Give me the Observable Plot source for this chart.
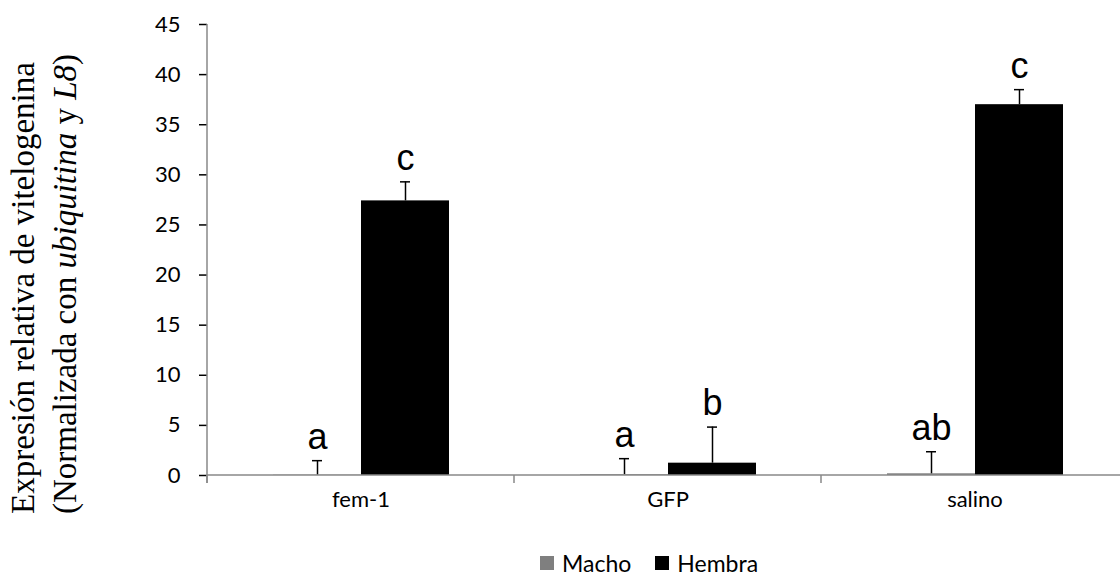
<!DOCTYPE html>
<html>
<head>
<meta charset="utf-8">
<script src="https://cdn.jsdelivr.net/npm/d3@7"></script>
<script src="https://cdn.jsdelivr.net/npm/@observablehq/plot@0.6"></script>
<style>
  html, body { margin: 0; padding: 0; background: white; overflow: hidden; width: 1120px; height: 575px; }
  #chart svg { display: block; }
  [aria-label="y-axis"] .tick line, [aria-label="y-axis tick"] { stroke: #898989; stroke-width: 1.5; }
  #legend { display: flex; align-items: center; padding-left: 540px; padding-top: 3px; height: 20px; line-height: 20px; font-family: Lato, sans-serif; font-size: 23px; color: #000; }
  #legend .sw { width: 14px; height: 14px; display: inline-block; margin-right: 8px; }
  #legend .item { display: flex; align-items: center; margin-right: 24px; height: 20px; }
</style>
</head>
<body>
<div id="chart"></div>
<div id="legend"></div>
<script>
const categories = ["fem-1", "GFP", "salino"];
const sexes = ["Macho", "Hembra"];
const sexColors = ["#7f7f7f", "#000000"];
const machoValues = [0.03, 0.08, 0.17];
const machoErrors = [1.45, 1.6, 2.2];
const hembraValues = [27.4, 1.23, 37.0];
const hembraErrors = [1.9, 3.6, 1.5];
const machoLetters = ["a", "a", "ab"];
const hembraLetters = ["c", "b", "c"];
const yTicks = [0, 5, 10, 15, 20, 25, 30, 35, 40, 45];

const data = [];
categories.forEach((c, i) => {
  data.push({category: c, sex: "Macho", value: machoValues[i], hi: machoValues[i] + machoErrors[i], letter: machoLetters[i]});
  data.push({category: c, sex: "Hembra", value: hembraValues[i], hi: hembraValues[i] + hembraErrors[i], letter: hembraLetters[i]});
});

const plot = Plot.plot({
  width: 1128,
  height: 550,
  marginTop: 24,
  marginBottom: 75,
  marginLeft: 207,
  marginRight: 0,
  style: {fontFamily: "Lato, sans-serif", fontSize: "22px", color: "black", background: "white", maxWidth: "none", overflow: "visible"},
  facet: {data, x: "category"},
  fx: {domain: categories, padding: 0, label: null, axis: "bottom", tickSize: 0, tickPadding: 16},
  x: {domain: sexes, paddingInner: 0, paddingOuter: 0.744, axis: null},
  y: {domain: [0, 45], ticks: yTicks, tickSize: 8, tickPadding: 19, label: null, axis: "left"},
  color: {domain: sexes, range: sexColors},
  marks: [
    Plot.barY(data, {x: "sex", y: "value", fill: "sex"}),
    Plot.ruleX(data, {x: "sex", y1: "value", y2: "hi", stroke: "black", strokeWidth: 1.5}),
    Plot.tickY(data, {x: "sex", y: "hi", stroke: "black", strokeWidth: 1.5, insetLeft: 39, insetRight: 39}),
    Plot.text(data, {x: "sex", y: "hi", text: "letter", dy: -12, lineAnchor: "bottom", fontSize: 36, fontFamily: "Liberation Sans, Arial, sans-serif", fill: "black"})
  ]
});
document.getElementById("chart").appendChild(plot);

// axis lines and category boundary ticks drawn from the plot's own scales
const fxs = plot.scale("fx");
const ys = plot.scale("y");
const y0 = ys.apply(0);
const yTop = ys.apply(45);
const bw = fxs.bandwidth;
const left = fxs.apply(categories[0]);
const right = fxs.apply(categories[categories.length - 1]) + bw;
const svg = d3.select(plot);
const axes = svg.append("g").attr("stroke", "#898989").attr("stroke-width", 1.5);
axes.append("line").attr("x1", left).attr("x2", left).attr("y1", yTop).attr("y2", y0 + 8);
axes.append("line").attr("x1", left).attr("x2", right).attr("y1", y0).attr("y2", y0);
categories.forEach(c => {
  const bx = fxs.apply(c);
  axes.append("line").attr("x1", bx).attr("x2", bx).attr("y1", y0).attr("y2", y0 + 8);
});
axes.append("line").attr("x1", right).attr("x2", right).attr("y1", y0).attr("y2", y0 + 8);

// rotated y-axis title (two lines, serif)
const title = svg.append("g").attr("font-family", "Liberation Serif, Times New Roman, serif").attr("font-size", 33).attr("fill", "black").attr("text-anchor", "middle");
title.append("text").attr("transform", "translate(34,288) rotate(-90)").text("Expresión relativa de vitelogenina");
const t2 = title.append("text").attr("transform", "translate(76,284) rotate(-90)");
t2.append("tspan").text("(Normalizada con ");
t2.append("tspan").attr("font-style", "italic").text("ubiquitina");
t2.append("tspan").text(" y ");
t2.append("tspan").attr("font-style", "italic").text("L8");
t2.append("tspan").text(")");

// legend
const legend = d3.select("#legend");
sexes.forEach((s, i) => {
  const it = legend.append("div").attr("class", "item");
  it.append("span").attr("class", "sw").style("background", sexColors[i]);
  it.append("span").text(s);
});
</script>
</body>
</html>
